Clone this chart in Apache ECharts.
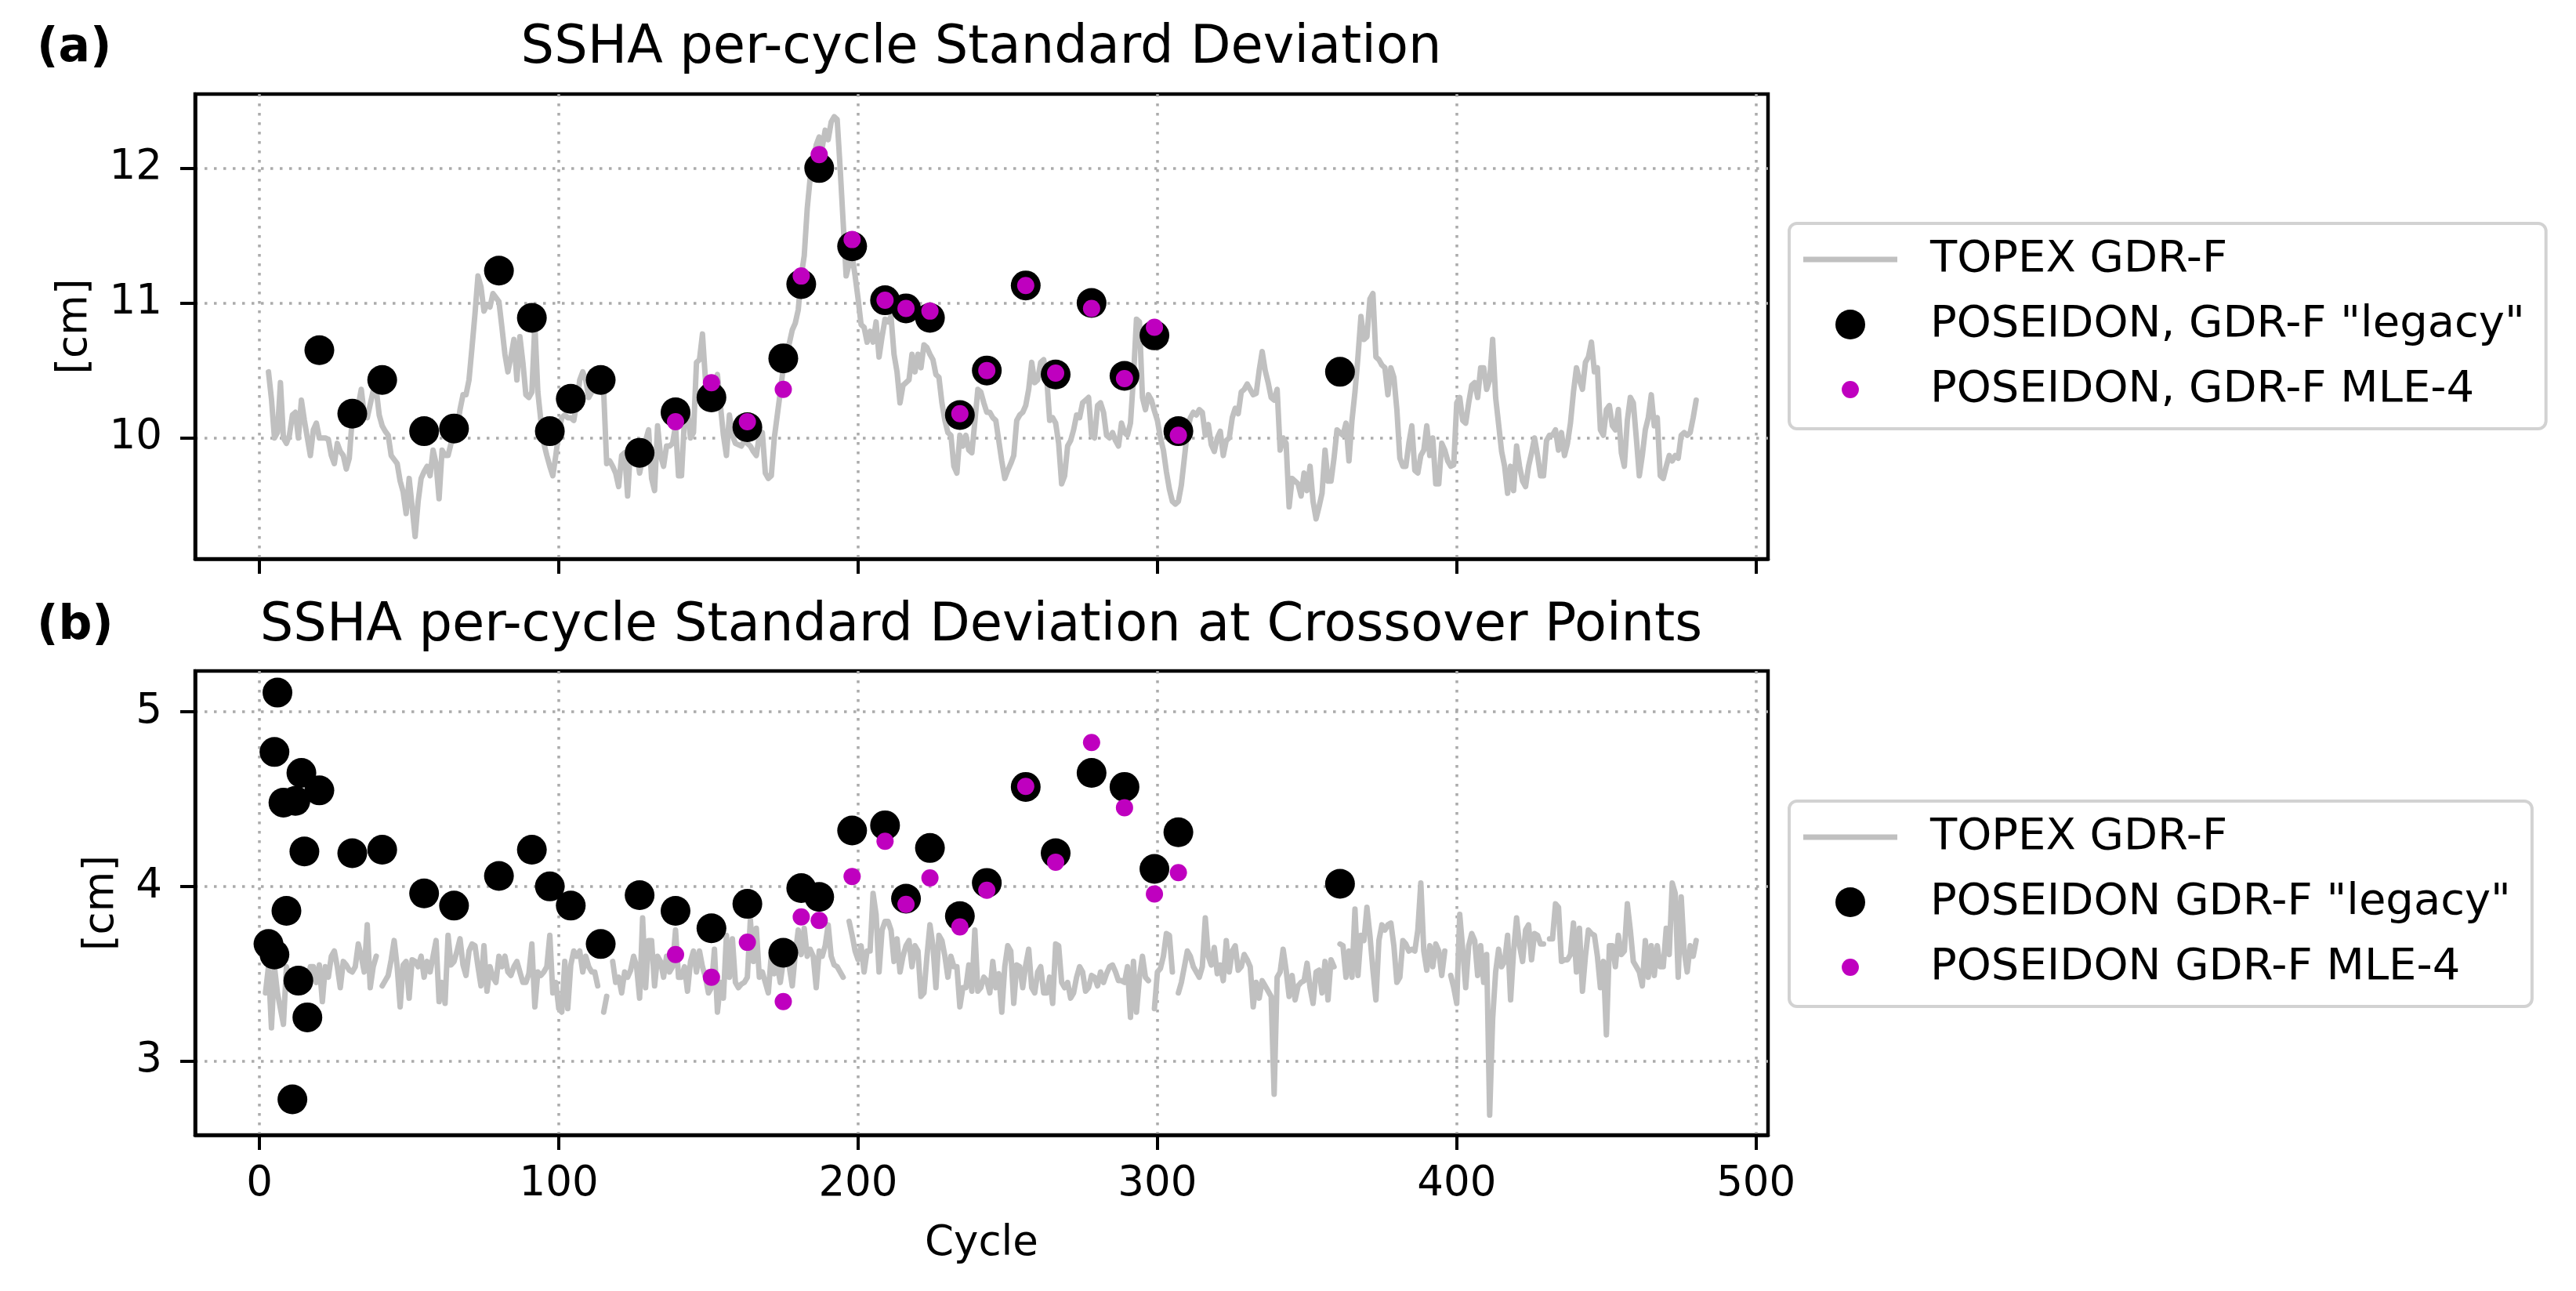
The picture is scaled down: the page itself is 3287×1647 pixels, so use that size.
<!DOCTYPE html>
<html>
<head>
<meta charset="utf-8">
<script src="https://cdn.jsdelivr.net/npm/echarts/dist/echarts.min.js"></script>
<style>
html,body{margin:0;padding:0;background:#ffffff;}
#chart{width:3287px;height:1647px;}
</style>
</head>
<body>
<div id="chart"></div>
<script>
// ---------------- DATA ----------------
// Panel (a): TOPEX GDR-F per-cycle SSHA std (cm), starting at cycle 3
const topexStartA = 3;
const topexA = [
  10.49,10.29,10.00,10.04,10.41,10.00,9.96,10.02,10.17,10.19,   // 3-12
  10.00,10.28,10.13,10.00,9.87,10.06,10.11,10.00,10.00,10.00,   // 13-22
  9.99,9.87,9.81,9.96,9.90,9.87,9.77,9.85,10.15,10.20,          // 23-32
  10.24,10.36,10.17,10.15,10.25,10.35,10.36,10.17,10.09,10.05,  // 33-42
  10.02,9.87,9.84,9.81,9.68,9.60,9.44,9.70,9.49,9.27,           // 43-52
  9.53,9.70,9.75,9.79,9.72,9.91,9.81,9.55,9.91,9.87,            // 53-62
  9.87,9.96,10.01,10.06,10.21,10.32,10.32,10.43,10.67,10.92,    // 63-72
  11.20,11.12,10.94,10.99,10.97,11.07,11.04,11.01,10.82,10.62,  // 73-82
  10.49,10.60,10.73,10.43,10.75,10.56,10.32,10.30,10.34,10.84,  // 83-92
  10.34,10.13,9.96,9.87,9.79,9.72,9.87,10.04,10.15,10.17,       // 93-102
  10.15,10.15,10.13,10.26,10.43,10.49,10.43,10.30,10.34,10.39,  // 103-112
  10.43,10.40,10.34,9.81,9.83,9.79,9.74,9.64,9.87,9.89,         // 113-122
  9.57,9.94,9.91,9.89,9.74,9.85,9.98,10.06,9.70,9.61,           // 123-132
  10.09,9.87,9.79,9.94,9.94,9.96,10.09,9.72,9.72,10.15,         // 133-142
  10.21,10.00,10.04,10.56,10.58,10.77,10.43,10.30,10.36,10.34,  // 143-152
  10.47,10.24,10.02,9.87,10.17,10.02,9.96,9.95,9.94,9.98,       // 153-162
  9.96,9.94,9.90,9.87,10.02,10.04,9.74,9.70,9.72,10.00,         // 163-172
  10.17,10.34,10.52,10.62,10.70,10.80,10.85,10.95,11.20,11.35,  // 173-182
  11.70,11.93,12.05,12.17,12.23,12.15,12.28,12.21,12.34,12.38,  // 183-192
  12.36,12.00,11.60,11.20,11.29,11.35,11.20,11.03,10.84,10.82,  // 193-202
  10.71,10.79,10.71,10.86,10.60,10.75,10.88,10.86,10.90,10.62,  // 203-212
  10.49,10.26,10.39,10.41,10.43,10.62,10.49,10.62,10.52,10.69,  // 213-222
  10.67,10.62,10.58,10.47,10.45,10.26,10.13,10.04,10.02,9.79,   // 223-232
  9.74,10.02,9.94,10.02,9.91,9.89,10.12,10.36,10.34,10.26,      // 233-242
  10.19,10.19,10.15,10.13,9.98,9.83,9.70,9.76,9.81,9.87,        // 243-252
  10.13,10.17,10.19,10.24,10.36,10.56,10.41,10.43,10.56,10.58,  // 253-262
  10.45,10.13,10.15,10.11,9.96,9.66,9.72,9.94,9.98,10.06,       // 263-272
  10.17,10.15,10.26,10.28,10.30,10.02,10.00,10.24,10.26,10.19,  // 273-282
  10.02,10.00,10.04,9.98,9.94,10.11,10.04,10.02,10.11,10.45,    // 283-292
  10.88,10.86,10.30,10.21,10.32,10.28,10.20,10.13,10.00,9.91,   // 293-302
  9.75,9.62,9.53,9.51,9.53,9.65,9.85,10.05,10.15,10.19,         // 303-312
  10.17,10.21,10.19,10.02,10.10,9.95,9.90,10.00,10.05,9.87,     // 313-322
  9.98,10.00,10.15,10.22,10.18,10.34,10.36,10.40,10.36,10.32,   // 323-332
  10.33,10.50,10.64,10.50,10.41,10.30,10.28,10.36,9.91,10.00,   // 333-342
  9.96,9.49,9.70,9.68,9.66,9.57,9.74,9.61,9.79,9.53,            // 343-352
  9.40,9.49,9.59,9.91,9.68,9.68,9.85,10.06,10.04,10.02,         // 353-362
  10.11,9.83,10.13,10.34,10.60,10.90,10.73,10.75,11.03,11.07,   // 363-372
  10.60,10.58,10.54,10.52,10.32,10.52,10.45,10.21,9.85,9.79,    // 373-382
  9.79,9.96,10.09,9.76,9.74,9.87,9.91,10.09,9.87,10.00,         // 383-392
  9.66,9.66,9.96,9.91,9.83,9.79,9.80,10.26,10.30,10.13,         // 393-402
  10.11,10.26,10.39,10.41,10.30,10.52,10.52,10.36,10.43,10.73,  // 403-412
  10.30,10.10,9.90,9.79,9.59,9.79,9.61,9.94,9.79,9.68,          // 413-422
  9.64,9.79,9.89,10.00,9.87,9.72,9.72,9.98,10.02,10.02,         // 423-432
  10.06,9.91,10.04,9.87,9.96,10.11,10.34,10.52,10.43,10.36,     // 433-442
  10.56,10.60,10.71,10.49,10.52,10.06,10.02,10.21,10.24,10.09,  // 443-452
  10.06,10.21,9.89,9.79,10.13,10.30,10.26,10.00,9.72,9.87,      // 453-462
  10.06,10.15,10.32,10.09,10.15,9.72,9.70,9.79,9.87,9.83,       // 463-472
  9.87,9.85,10.02,10.04,10.02,10.04,10.15,10.28                 // 473-480
];

// Panel (b): TOPEX GDR-F std at crossover points (cm), starting at cycle 2 (null = gap)
const topexStartB = 2;
const topexB = [
  3.39,3.54,3.19,3.54,3.39,3.30,3.21,3.54,3.45,3.51,   // 2-11
  3.45,3.39,3.46,3.46,3.42,3.54,3.54,3.45,3.55,3.34,   // 12-21
  3.54,3.48,3.60,3.63,3.54,3.42,3.57,3.55,3.52,3.51,   // 22-31
  3.54,3.67,3.60,3.51,3.78,3.42,3.54,3.60,null,3.43,   // 32-41
  3.46,3.49,3.58,3.69,3.54,3.31,3.55,3.57,3.36,3.58,   // 42-51
  3.57,3.54,3.60,3.48,3.57,3.51,3.60,3.69,3.34,3.45,   // 52-61
  3.33,3.72,3.55,3.57,3.63,3.70,3.55,3.49,3.63,3.67,   // 62-71
  3.66,3.54,3.43,3.66,3.40,3.54,3.48,3.45,3.60,3.54,   // 72-81
  3.60,3.51,3.49,3.54,3.57,3.51,3.45,3.45,3.50,3.67,   // 82-91
  3.31,3.51,3.49,3.51,3.54,3.72,3.39,3.45,3.30,3.28,   // 92-101
  3.57,3.30,3.55,3.63,3.60,3.63,3.51,3.60,3.54,3.51,   // 102-111
  3.51,3.43,null,3.28,3.37,null,3.57,3.45,3.48,3.39,   // 112-121
  3.51,3.48,3.52,3.60,3.54,3.36,3.82,3.42,3.69,3.69,   // 122-131
  3.43,3.60,3.57,3.48,3.60,3.51,3.54,3.75,3.48,3.48,   // 132-141
  3.54,3.40,3.57,3.63,3.51,3.63,3.54,3.48,3.39,3.42,   // 142-151
  3.64,3.28,3.45,3.36,3.72,3.48,3.70,3.45,3.42,3.44,   // 152-161
  3.45,3.48,3.81,3.57,3.76,3.48,3.51,3.45,3.39,3.61,   // 162-171
  3.50,3.55,3.45,3.57,3.60,3.54,3.43,3.61,3.75,3.61,   // 172-181
  3.76,3.60,3.64,3.60,3.42,3.63,3.60,3.66,3.78,3.60,   // 182-191
  3.55,3.54,3.51,3.48,null,3.80,3.72,3.63,3.58,3.66,   // 192-201
  3.51,3.63,3.63,3.96,3.84,3.51,3.75,3.80,3.80,3.75,   // 202-211
  3.57,3.70,3.51,3.60,3.66,3.69,3.54,3.66,3.63,3.37,   // 212-221
  3.39,3.60,3.78,3.66,3.42,3.72,3.69,3.60,3.48,3.60,   // 222-231
  3.54,3.54,3.31,3.42,3.42,3.55,3.40,3.75,3.40,3.42,   // 232-241
  3.48,3.46,3.39,3.57,3.42,3.50,3.28,3.54,3.66,3.63,   // 242-251
  3.33,3.55,3.54,3.42,3.55,3.64,3.42,3.39,3.51,3.54,   // 252-261
  3.39,3.39,3.48,3.33,3.67,3.66,3.45,3.42,3.45,3.36,   // 262-271
  3.39,3.48,3.54,3.51,3.40,3.42,3.49,3.48,3.43,3.51,   // 272-281
  3.45,3.50,3.54,3.55,3.51,3.46,3.46,3.45,3.54,3.25,   // 282-291
  3.57,3.28,3.48,3.60,3.48,3.46,null,3.30,3.51,3.53,   // 292-301
  3.60,3.73,3.72,3.51,null,3.39,3.45,3.54,3.63,3.60,   // 302-311
  3.54,3.51,3.48,3.54,3.82,3.60,3.55,3.65,3.50,3.55,   // 312-321
  3.46,3.69,3.51,3.63,3.66,3.52,3.54,3.61,3.58,3.54,   // 322-331
  3.31,3.45,3.36,3.46,3.43,3.40,3.37,2.81,3.48,3.51,   // 332-341
  3.64,3.52,3.37,3.49,3.35,3.43,3.45,3.46,3.56,3.42,   // 342-351
  3.33,3.51,3.52,3.39,3.57,3.35,3.58,3.54,null,3.67,   // 352-361
  3.66,3.48,3.63,3.48,3.87,3.49,3.72,3.69,3.88,3.72,   // 362-371
  3.52,3.35,3.69,3.78,3.75,3.78,3.79,3.66,3.45,3.48,   // 372-381
  3.69,3.67,3.63,3.64,3.63,3.75,4.02,3.63,3.52,3.66,   // 382-391
  3.54,3.67,3.63,3.49,3.63,null,3.49,3.42,3.33,3.84,   // 392-401
  3.64,3.42,3.66,3.73,3.69,3.49,3.66,3.45,3.61,2.69,   // 402-411
  3.24,3.51,3.64,3.54,3.57,3.72,3.35,3.63,3.82,3.66,   // 412-421
  3.57,3.75,3.78,3.58,3.73,3.72,3.67,3.67,null,3.70,   // 422-431
  3.70,3.90,3.88,3.57,3.58,3.58,3.61,3.79,3.51,3.76,   // 432-441
  3.40,3.60,3.75,3.73,3.72,3.60,3.42,3.57,3.15,3.66,   // 442-451
  3.66,3.54,3.72,3.61,3.63,3.90,3.75,3.57,3.54,3.51,   // 452-461
  3.43,3.69,3.48,3.66,3.49,3.66,3.54,3.54,3.76,3.61,   // 462-471
  4.02,3.96,3.48,3.94,3.63,3.51,3.66,3.60,3.69         // 472-480
];

// Panel (a): POSEIDON scatter
const legacyCyclesA = [20,31,41,55,65,80,91,97,104,114,127,139,151,163,175,181,187,198,209,216,224,234,243,256,266,278,289,299,307,361];
const legacyA      = [10.65,10.18,10.43,10.05,10.07,11.24,10.89,10.05,10.29,10.43,9.89,10.19,10.30,10.08,10.59,11.14,12.00,11.42,11.02,10.96,10.89,10.17,10.50,11.13,10.47,11.00,10.46,10.76,10.05,10.49];
const mleCyclesA   = [139,151,163,175,181,187,198,209,216,224,234,243,256,266,278,289,299,307];
const mleA         = [10.12,10.41,10.12,10.36,11.20,12.10,11.47,11.02,10.96,10.94,10.18,10.50,11.13,10.48,10.96,10.44,10.82,10.02];

// Panel (b): POSEIDON scatter at crossovers
const legacyCyclesB = [3,5,5,6,8,9,11,12,13,14,15,16,20,31,41,55,65,80,91,97,104,114,127,139,151,163,175,181,187,198,209,216,224,234,243,256,266,278,289,299,307,361];
const legacyB      = [3.67,3.61,4.77,5.11,4.48,3.86,2.78,4.49,3.46,4.65,4.20,3.25,4.55,4.19,4.21,3.96,3.89,4.06,4.21,4.00,3.89,3.67,3.95,3.86,3.76,3.90,3.62,3.99,3.94,4.32,4.35,3.93,4.22,3.83,4.02,4.57,4.19,4.65,4.57,4.10,4.31,4.015];
const mleCyclesB   = [139,151,163,175,181,187,198,209,216,224,234,243,256,266,278,289,299,307];
const mleB         = [3.61,3.48,3.68,3.34,3.825,3.805,4.057,4.259,3.897,4.049,3.768,3.978,4.573,4.139,4.824,4.451,3.957,4.079];

// Tick values
const xTicks  = [0,100,200,300,400,500];
const yTicksA = [10,11,12];
const yTicksB = [3,4,5];

// Labels
const titleA = 'SSHA per-cycle Standard Deviation';
const titleB = 'SSHA per-cycle Standard Deviation at Crossover Points';
const namesA = ['TOPEX GDR-F', 'POSEIDON, GDR-F "legacy"', 'POSEIDON, GDR-F MLE-4'];
const namesB = ['TOPEX GDR-F', 'POSEIDON GDR-F "legacy"', 'POSEIDON GDR-F MLE-4'];

// ---------------- BUILD ----------------
const FONT = 'DejaVu Sans';
const GRAY = '#c0c0c0';
const MAG = '#bf00bf';
const pairs = (start, arr) => arr.map((v, i) => [start + i, v]);
const zip = (xs, ys) => xs.map((x, i) => [x, ys[i]]);
const magIcon = 'path://M0,0M40,40M31.5,20A11.5,11.5,0,1,1,8.5,20A11.5,11.5,0,1,1,31.5,20Z';
const lineIcon = 'path://M0,0M120,38M0,15.5H120V22.5H0Z';

const chart = echarts.init(document.getElementById('chart'), null, {renderer: 'canvas'});

const gridLine = {show: true, lineStyle: {color: '#ababab', width: 3.5, type: [3.5, 8.5]}};
const tickStyle = {show: true, length: 19, lineStyle: {color: '#000', width: 4}};
const axisLineStyle = {show: true, onZero: false, lineStyle: {color: '#000', width: 4.5}};
const labelText = {fontSize: 53, color: '#000', fontFamily: FONT};

function makeX(gridIndex, showLabels) {
  const ax = {
    gridIndex: gridIndex, type: 'value', min: -21.5, max: 504,
    axisLine: axisLineStyle,
    axisTick: Object.assign({customValues: xTicks}, tickStyle),
    axisLabel: Object.assign({show: showLabels, customValues: xTicks, margin: 37}, labelText),
    splitLine: gridLine
  };
  if (showLabels) {
    ax.name = 'Cycle';
    ax.nameLocation = 'middle';
    ax.nameGap = 113;
    ax.nameTextStyle = {fontSize: 53, color: '#000', fontFamily: FONT};
  }
  return ax;
}
function makeY(gridIndex, min, max, ticks, nameGap) {
  return {
    gridIndex: gridIndex, type: 'value', min: min, max: max,
    name: '[cm]', nameLocation: 'middle', nameGap: nameGap,
    nameTextStyle: {fontSize: 53, color: '#000', fontFamily: FONT},
    axisLine: axisLineStyle,
    axisTick: Object.assign({customValues: ticks}, tickStyle),
    axisLabel: Object.assign({customValues: ticks, margin: 42}, labelText),
    splitLine: gridLine
  };
}
function makeLegend(top, names) {
  return {
    left: 2283, top: top, orient: 'vertical', selectedMode: false,
    data: [
      {name: names[0], icon: lineIcon, itemStyle: {color: GRAY, borderWidth: 0}},
      {name: names[1]},
      {name: names[2], icon: magIcon}
    ],
    itemWidth: 120, itemHeight: 38, itemGap: 27,
    padding: [18, 27, 22, 18],
    borderColor: '#d2d2d2', borderWidth: 4, borderRadius: 10, backgroundColor: '#ffffff',
    textStyle: {fontSize: 56, color: '#000', fontFamily: FONT, lineHeight: 56, padding: [0, 0, 0, 37]}
  };
}
function lineSeries(name, idx, data) {
  return {type: 'line', name: name, xAxisIndex: idx, yAxisIndex: idx, data: data,
    symbol: 'none', showSymbol: false, connectNulls: false, silent: true, z: 2,
    lineStyle: {color: GRAY, width: 7, cap: 'round', join: 'round'}, itemStyle: {color: GRAY},
    emphasis: {disabled: true}};
}
function dotSeries(name, idx, data, size, color, z) {
  return {type: 'scatter', name: name, xAxisIndex: idx, yAxisIndex: idx, data: data,
    symbol: 'circle', symbolSize: size, silent: true, z: z,
    itemStyle: {color: color, opacity: 1}, emphasis: {disabled: true}};
}

const option = {
  animation: false,
  backgroundColor: '#ffffff',
  textStyle: {fontFamily: FONT},
  title: [
    {text: '(a)', left: 47, top: 32, padding: 0, textStyle: {fontSize: 60, fontWeight: 'bold', color: '#000', fontFamily: FONT}},
    {text: titleA, left: 1252, top: 29, textAlign: 'center', padding: 0, textStyle: {fontSize: 67, fontWeight: 'normal', color: '#000', fontFamily: FONT}},
    {text: '(b)', left: 47, top: 769, padding: 0, textStyle: {fontSize: 60, fontWeight: 'bold', color: '#000', fontFamily: FONT}},
    {text: titleB, left: 1252, top: 766, textAlign: 'center', padding: 0, textStyle: {fontSize: 67, fontWeight: 'normal', color: '#000', fontFamily: FONT}}
  ],
  grid: [
    {left: 249, top: 120, width: 2007, height: 593, show: true, borderColor: '#000', borderWidth: 4.5, backgroundColor: '#fff', containLabel: false, outerBoundsMode: 'none'},
    {left: 249, top: 856, width: 2007, height: 592, show: true, borderColor: '#000', borderWidth: 4.5, backgroundColor: '#fff', containLabel: false, outerBoundsMode: 'none'}
  ],
  xAxis: [makeX(0, false), makeX(1, true)],
  yAxis: [makeY(0, 9.104, 12.548, yTicksA, 126), makeY(1, 2.576, 5.234, yTicksB, 92)],
  legend: [makeLegend(285, namesA), makeLegend(1022, namesB)],
  series: [
    lineSeries(namesA[0], 0, pairs(topexStartA, topexA)),
    dotSeries(namesA[1], 0, zip(legacyCyclesA, legacyA), 38, '#000000', 3),
    dotSeries(namesA[2], 0, zip(mleCyclesA, mleA), 22, MAG, 4),
    lineSeries(namesB[0], 1, pairs(topexStartB, topexB)),
    dotSeries(namesB[1], 1, zip(legacyCyclesB, legacyB), 38, '#000000', 3),
    dotSeries(namesB[2], 1, zip(mleCyclesB, mleB), 22, MAG, 4)
  ]
};
chart.setOption(option);
</script>
</body>
</html>
